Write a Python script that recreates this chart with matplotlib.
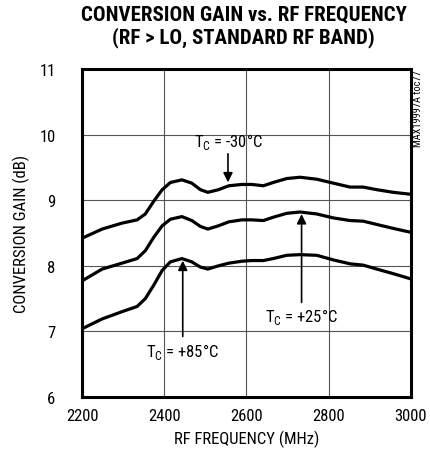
import matplotlib.pyplot as plt

plt.rcParams['font.family'] = ['Roboto Condensed', 'Liberation Sans', 'DejaVu Sans']
plt.rcParams['mathtext.fontset'] = 'custom'
plt.rcParams['mathtext.rm'] = 'Roboto Condensed'

# RF frequency (MHz)
freq = [2200, 2249, 2297, 2334, 2354, 2374, 2395, 2415, 2443, 2467, 2488, 2506, 2532, 2557, 2589,
        2613, 2641, 2665, 2698, 2730, 2771, 2811, 2852, 2884, 2917, 2957, 3000]
# conversion gain (dB) per case temperature
gain_m30 = [8.42, 8.56, 8.65, 8.70, 8.79, 8.98, 9.16, 9.27, 9.31, 9.26, 9.16, 9.12, 9.16, 9.22, 9.24,
            9.24, 9.22, 9.27, 9.33, 9.35, 9.32, 9.26, 9.20, 9.20, 9.16, 9.12, 9.09]
gain_25 = [7.77, 7.95, 8.04, 8.11, 8.23, 8.43, 8.61, 8.71, 8.75, 8.69, 8.60, 8.56, 8.61, 8.67, 8.70,
           8.70, 8.69, 8.74, 8.80, 8.82, 8.79, 8.73, 8.69, 8.68, 8.63, 8.57, 8.51]
gain_85 = [7.04, 7.19, 7.30, 7.38, 7.50, 7.70, 7.93, 8.06, 8.11, 8.06, 7.98, 7.95, 8.00, 8.04, 8.07,
           8.08, 8.08, 8.11, 8.16, 8.17, 8.16, 8.09, 8.03, 8.01, 7.95, 7.88, 7.80]

xticks = [2200, 2400, 2600, 2800, 3000]
yticks = [6, 7, 8, 9, 10, 11]

fig = plt.figure(figsize=(4.3, 4.56), dpi=100)
ax = fig.add_axes([0.1907, 0.1272, 0.765, 0.7193])

for g in [gain_m30, gain_25, gain_85]:
    ax.plot(freq, g, color='black', lw=2.3, solid_joinstyle='round', zorder=3)

ax.set_xlim(2200, 3000)
ax.set_ylim(6, 11)
ax.set_xticks(xticks)
ax.set_yticks(yticks)
ax.tick_params(length=0, labelsize=12)
ax.tick_params(axis='x', pad=8)
ax.tick_params(axis='y', pad=19)
ax.grid(True, color='#555555', lw=0.8)
for s in ax.spines.values():
    s.set_linewidth(2.2)

ax.set_xlabel('RF FREQUENCY (MHz)', fontsize=12, labelpad=5)
ax.set_ylabel('CONVERSION GAIN (dB)', fontsize=12, labelpad=7)
fig.text(0.567, 0.966, 'CONVERSION GAIN vs. RF FREQUENCY', ha='center', va='center',
         fontsize=15, fontweight='heavy')
fig.text(0.567, 0.918, '(RF > LO, STANDARD RF BAND)', ha='center', va='center',
         fontsize=15, fontweight='heavy')
fig.text(0.972, 0.845, 'MAX19997A toc77', rotation=90, ha='center', va='top', fontsize=7.5)

arrow = dict(arrowstyle='-|>', color='black', lw=1.2, mutation_scale=14)
ax.annotate('', xy=(2555, 9.23), xytext=(2555, 9.75), arrowprops=arrow)
ax.text(2555, 9.9, 'T$_{\\mathregular{C}}$ = -30°C', ha='center', va='center', fontsize=12)
ax.annotate('', xy=(2734, 8.83), xytext=(2734, 7.4), arrowprops=arrow)
ax.text(2734, 7.23, 'T$_{\\mathregular{C}}$ = +25°C', ha='center', va='center', fontsize=12)
ax.annotate('', xy=(2445, 8.12), xytext=(2445, 6.88), arrowprops=arrow)
ax.text(2445, 6.7, 'T$_{\\mathregular{C}}$ = +85°C', ha='center', va='center', fontsize=12)

fig.savefig('out.png', dpi=100)
